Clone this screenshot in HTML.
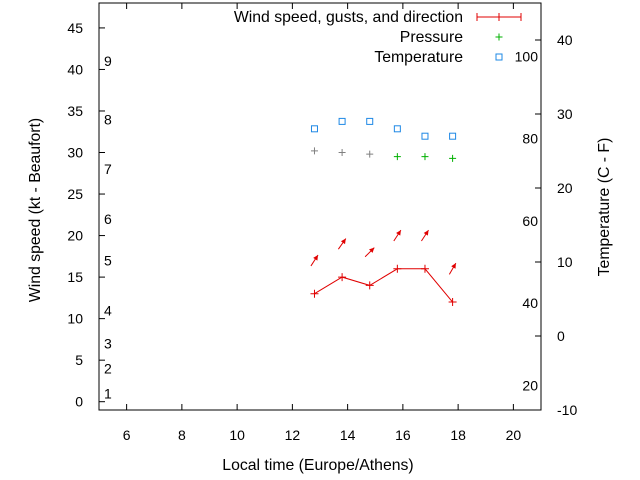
<!DOCTYPE html>
<html><head><meta charset="utf-8"><style>
body{margin:0;background:#fff}
svg{display:block;font-family:"Liberation Sans",sans-serif;font-size:14px}
.big{font-size:15.8px}
</style></head><body>
<svg id="c" width="640" height="480"></svg>
<script>
const hours=[12.8,13.8,14.8,15.8,16.8,17.8];
const windSpeed=[13,15,14,16,16,12];
const gusts=[17,19,18,20,20,16];
const windDir=[213,215,225,213,213,210];
const pressure=[30.2,30.0,29.8,29.5,29.5,29.3];
const pressureColor=['#808080','#808080','#808080','#00b000','#00b000','#00b000'];
const tempC=[28,29,29,28,27,27];
const xTicks=[6,8,10,12,14,16,18,20];
const yTicks=[0,5,10,15,20,25,30,35,40,45];
const cTicks=[-10,0,10,20,30,40];
const fTicks=[20,40,60,80,100];
const beaufortLabels=[1,2,3,4,5,6,7,8,9];
const beaufortKt=[1,4,7,11,17,22,28,34,41];

const L=99,R=541,T=3,B=410;
const X=v=>L+(v-5)/16*(R-L);
const Y=v=>B-(v+1)/49*(B-T);
const YC=c=>B-(c+10)/55*(B-T);
const YF=f=>YC((f-32)*5/9);
const s=document.getElementById('c');
const NS='http://www.w3.org/2000/svg';
function el(t,a,txt){const e=document.createElementNS(NS,t);for(const k in a)e.setAttribute(k,a[k]);if(txt!==undefined)e.textContent=txt;s.appendChild(e);return e;}

let e=el('rect',{x:L,y:T,width:R-L,height:B-T,fill:'none',stroke:'#000','stroke-width':1});


xTicks.forEach(v=>{const x=X(v);
 el('line',{x1:x,y1:B,x2:x,y2:B-6,stroke:'#000'});el('line',{x1:x,y1:T,x2:x,y2:T+6,stroke:'#000'});
 const t=el('text',{x:x,y:B+30,'text-anchor':'middle'},v);
 
 });
yTicks.forEach(v=>{const y=Y(v);
 el('line',{x1:L,y1:y,x2:L+6,y2:y,stroke:'#000'});
 const t=el('text',{x:L-16,y:y+5,'text-anchor':'end'},v);
 
 });
cTicks.forEach(v=>{const y=YC(v);
 el('line',{x1:R,y1:y,x2:R-6,y2:y,stroke:'#000'});
 const t=el('text',{x:R+16,y:y+5,'text-anchor':'start'},v);
 
 });
fTicks.forEach(v=>{const t=el('text',{x:538,y:YF(v)+5,'text-anchor':'end'},v);
 
 });
beaufortLabels.forEach((b,i)=>{const t=el('text',{x:104,y:Y(beaufortKt[i])+5},b);
 
 });

e=el('polyline',{points:hours.map((h,i)=>X(h)+','+Y(windSpeed[i])).join(' '),fill:'none',stroke:'#e00000'});


hours.forEach((h,i)=>{const x=X(h),y=Y(windSpeed[i]);
 const p=el('path',{d:`M${x-4},${y}H${x+4}M${x},${y-4}V${y+4}`,stroke:'#e00000'});
 
 
 const a=(windDir[i]+180)*Math.PI/180, len=13;
 const cx=X(h),cy=Y(gusts[i]);
 const dx=Math.sin(a)*len/2, dy=-Math.cos(a)*len/2;
 const x1=cx-dx,y1=cy-dy,x2=cx+dx,y2=cy+dy;
 const g=el('g',{});
 
 
 const ln=document.createElementNS(NS,'line');ln.setAttribute('x1',x1);ln.setAttribute('y1',y1);ln.setAttribute('x2',x2);ln.setAttribute('y2',y2);ln.setAttribute('stroke','#e00000');g.appendChild(ln);
 const ux=dx/(len/2),uy=dy/(len/2),hl=5,hw=2.5;
 const bx=x2-ux*hl,by=y2-uy*hl;
 const hd=document.createElementNS(NS,'polygon');hd.setAttribute('points',`${x2},${y2} ${bx-uy*hw},${by+ux*hw} ${bx+uy*hw},${by-ux*hw}`);hd.setAttribute('fill','#e00000');g.appendChild(hd);
});
hours.forEach((h,i)=>{const x=X(h),y=Y(pressure[i]);
 const p=el('path',{d:`M${x-3.5},${y}H${x+3.5}M${x},${y-3.5}V${y+3.5}`,stroke:pressureColor[i]});
 
 });
hours.forEach((h,i)=>{const x=X(h),y=YC(tempC[i]);
 const p=el('rect',{x:x-3,y:y-3,width:6,height:6,fill:'none',stroke:'#1e88e5'});
 
 });

const lg=[['Wind speed, gusts, and direction',17],['Pressure',37],['Temperature',57]];
lg.forEach(([t,y])=>{const tx=el('text',{x:463,y:y+5,'text-anchor':'end',class:'big'},t);
 
 });
e=el('path',{d:'M477,17H521M477,13V21M499,13V21M521,13V21',stroke:'#e00000'});


e=el('path',{d:'M495.5,37H502.5M499,33.5V40.5',stroke:'#00b000'});


e=el('rect',{x:496,y:54,width:6,height:6,fill:'none',stroke:'#1e88e5'});



e=el('text',{x:318,y:470,'text-anchor':'middle',class:'big'},'Local time (Europe/Athens)');


e=el('text',{x:40,y:210,'text-anchor':'middle',class:'big',transform:'rotate(-90 40 210)'},'Wind speed (kt - Beaufort)');


e=el('text',{x:609,y:207,'text-anchor':'middle',class:'big',transform:'rotate(-90 609 207)'},'Temperature (C - F)');


</script>
</body></html>
